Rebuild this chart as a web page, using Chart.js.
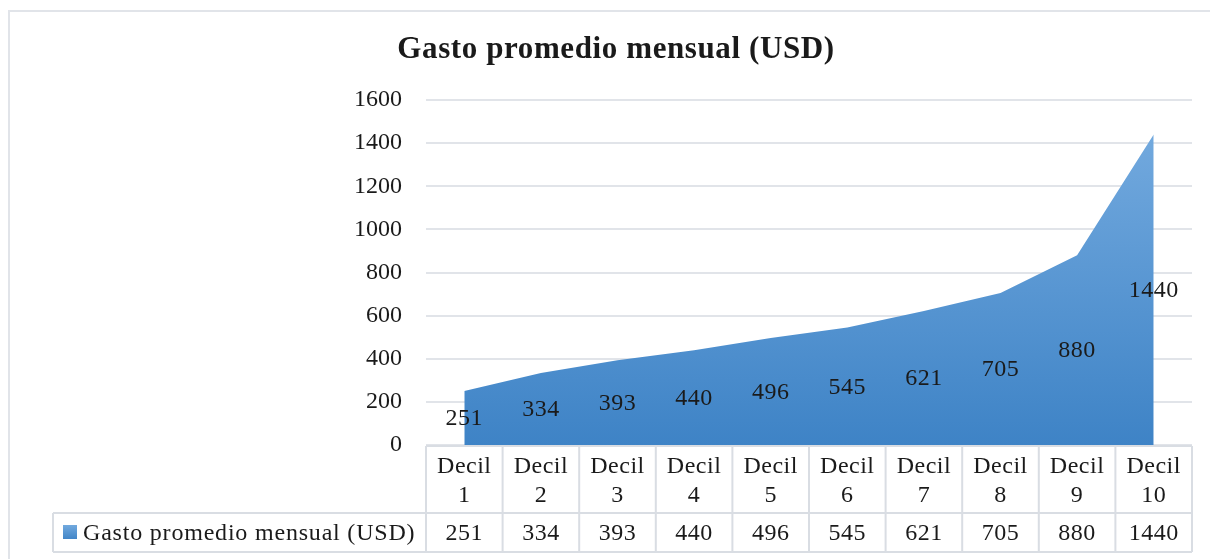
<!DOCTYPE html>
<html>
<head>
<meta charset="utf-8">
<script src="https://cdn.jsdelivr.net/npm/chart.js@4/dist/chart.umd.min.js"></script>
<style>
  html, body { margin: 0; padding: 0; background: #fff; }
  #wrap { width: 1210px; height: 559px; position: relative; }
</style>
</head>
<body>
<div id="wrap"><canvas id="myChart" width="1210" height="559"></canvas></div>
<script>
var titulo = 'Gasto promedio mensual (USD)';
var serieNombre = 'Gasto promedio mensual (USD)';
var deciles = ['Decil 1', 'Decil 2', 'Decil 3', 'Decil 4', 'Decil 5', 'Decil 6', 'Decil 7', 'Decil 8', 'Decil 9', 'Decil 10'];
var gasto = [251, 334, 393, 440, 496, 545, 621, 705, 880, 1440];
var yTicks = [0, 200, 400, 600, 800, 1000, 1200, 1400, 1600];

var fuente = '"Liberation Serif", "DejaVu Serif", serif';
var bordeTabla = '#d9dde3';
var texto = '#1a1a1a';

// degradado del area
function relleno(context) {
    var chart = context.chart;
    var area = chart.chartArea;
    if (!area) return '#4a90d2';
    var top = chart.scales.y.getPixelForValue(1440);
    var g = chart.ctx.createLinearGradient(0, top, 0, area.bottom);
    g.addColorStop(0, '#72a9de');
    g.addColorStop(1, '#3e83c6');
    return g;
}

// marco, titulo, etiquetas y tabla de datos
var extras = {
    id: 'extras',
    beforeDraw: function (chart) {
        var ctx = chart.ctx;
        ctx.save();
        ctx.strokeStyle = '#e1e4e9';
        ctx.lineWidth = 2;
        ctx.beginPath();
        ctx.moveTo(9, 559);
        ctx.lineTo(9, 11);
        ctx.lineTo(1210, 11);
        ctx.stroke();
        ctx.restore();
    },
    afterDraw: function (chart) {
        var ctx = chart.ctx;
        var x = chart.scales.x;
        var y = chart.scales.y;
        var area = chart.chartArea;
        var half = (area.right - area.left) / deciles.length / 2;

        ctx.save();
        // titulo
        ctx.fillStyle = texto;
        ctx.font = 'bold 31px ' + fuente;
        ctx.letterSpacing = '0.6px';
        ctx.textAlign = 'center';
        ctx.textBaseline = 'middle';
        ctx.fillText(titulo, 616, 50);

        // etiquetas de datos en el centro del area
        ctx.font = '24px ' + fuente;
        ctx.letterSpacing = '0.5px';
        for (var i = 0; i < gasto.length; i++) {
            var px = x.getPixelForValue(i);
            var py = (y.getPixelForValue(gasto[i]) + y.getPixelForValue(0)) / 2 + 1;
            ctx.fillText(String(gasto[i]), px, py);
        }

        // tabla de datos
        var top = area.bottom + 1;
        var mid = top + 67;
        var bot = mid + 39;
        var legLeft = 53;
        ctx.strokeStyle = bordeTabla;
        ctx.lineWidth = 2;
        ctx.beginPath();
        ctx.moveTo(area.left, top); ctx.lineTo(area.right, top);
        ctx.moveTo(legLeft, mid); ctx.lineTo(area.right, mid);
        ctx.moveTo(legLeft, bot); ctx.lineTo(area.right, bot);
        ctx.moveTo(legLeft, mid); ctx.lineTo(legLeft, bot);
        for (var j = 0; j <= deciles.length; j++) {
            var bx = j < deciles.length ? x.getPixelForValue(j) - half : x.getPixelForValue(j - 1) + half;
            ctx.moveTo(bx, top); ctx.lineTo(bx, bot);
        }
        ctx.stroke();

        ctx.fillStyle = texto;
        for (var k = 0; k < deciles.length; k++) {
            var cx = x.getPixelForValue(k);
            var partes = deciles[k].split(' ');
            ctx.fillText(partes[0], cx, top + 21);
            ctx.fillText(partes[1], cx, top + 50);
            ctx.fillText(String(gasto[k]), cx, mid + 21);
        }

        // leyenda
        var sw = ctx.createLinearGradient(0, mid + 12, 0, mid + 27);
        sw.addColorStop(0, '#72a9de');
        sw.addColorStop(1, '#3e83c6');
        ctx.fillStyle = sw;
        ctx.fillRect(63, mid + 12, 14, 14);
        ctx.fillStyle = texto;
        ctx.textAlign = 'left';
        ctx.letterSpacing = '0.8px';
        ctx.fillText(serieNombre, 83, mid + 21);
        ctx.restore();
    }
};

const ctx = document.getElementById('myChart').getContext('2d');
const myChart = new Chart(ctx, {
    type: 'line',
    data: {
        labels: deciles,
        datasets: [{
            label: serieNombre,
            data: gasto,
            fill: 'origin',
            backgroundColor: relleno,
            borderWidth: 0,
            borderColor: 'rgba(0,0,0,0)',
            pointRadius: 0,
            tension: 0
        }]
    },
    options: {
        responsive: false,
        animation: false,
        layout: { padding: { top: 100, right: 18, bottom: 114, left: 0 } },
        plugins: {
            legend: { display: false },
            title: { display: false },
            tooltip: { enabled: false }
        },
        scales: {
            x: {
                display: false,
                offset: true
            },
            y: {
                min: 0,
                max: 1600,
                afterBuildTicks: function (s) {
                    s.ticks = yTicks.map(function (v) { return { value: v }; });
                },
                afterFit: function (s) { s.width = 426; },
                border: { display: false },
                grid: { color: '#e1e4e9', lineWidth: 2, drawTicks: false },
                ticks: {
                    padding: 24,
                    color: texto,
                    font: { family: fuente, size: 24 },
                    callback: function (v) { return String(v); }
                }
            }
        }
    },
    plugins: [extras]
});
</script>
</body>
</html>
